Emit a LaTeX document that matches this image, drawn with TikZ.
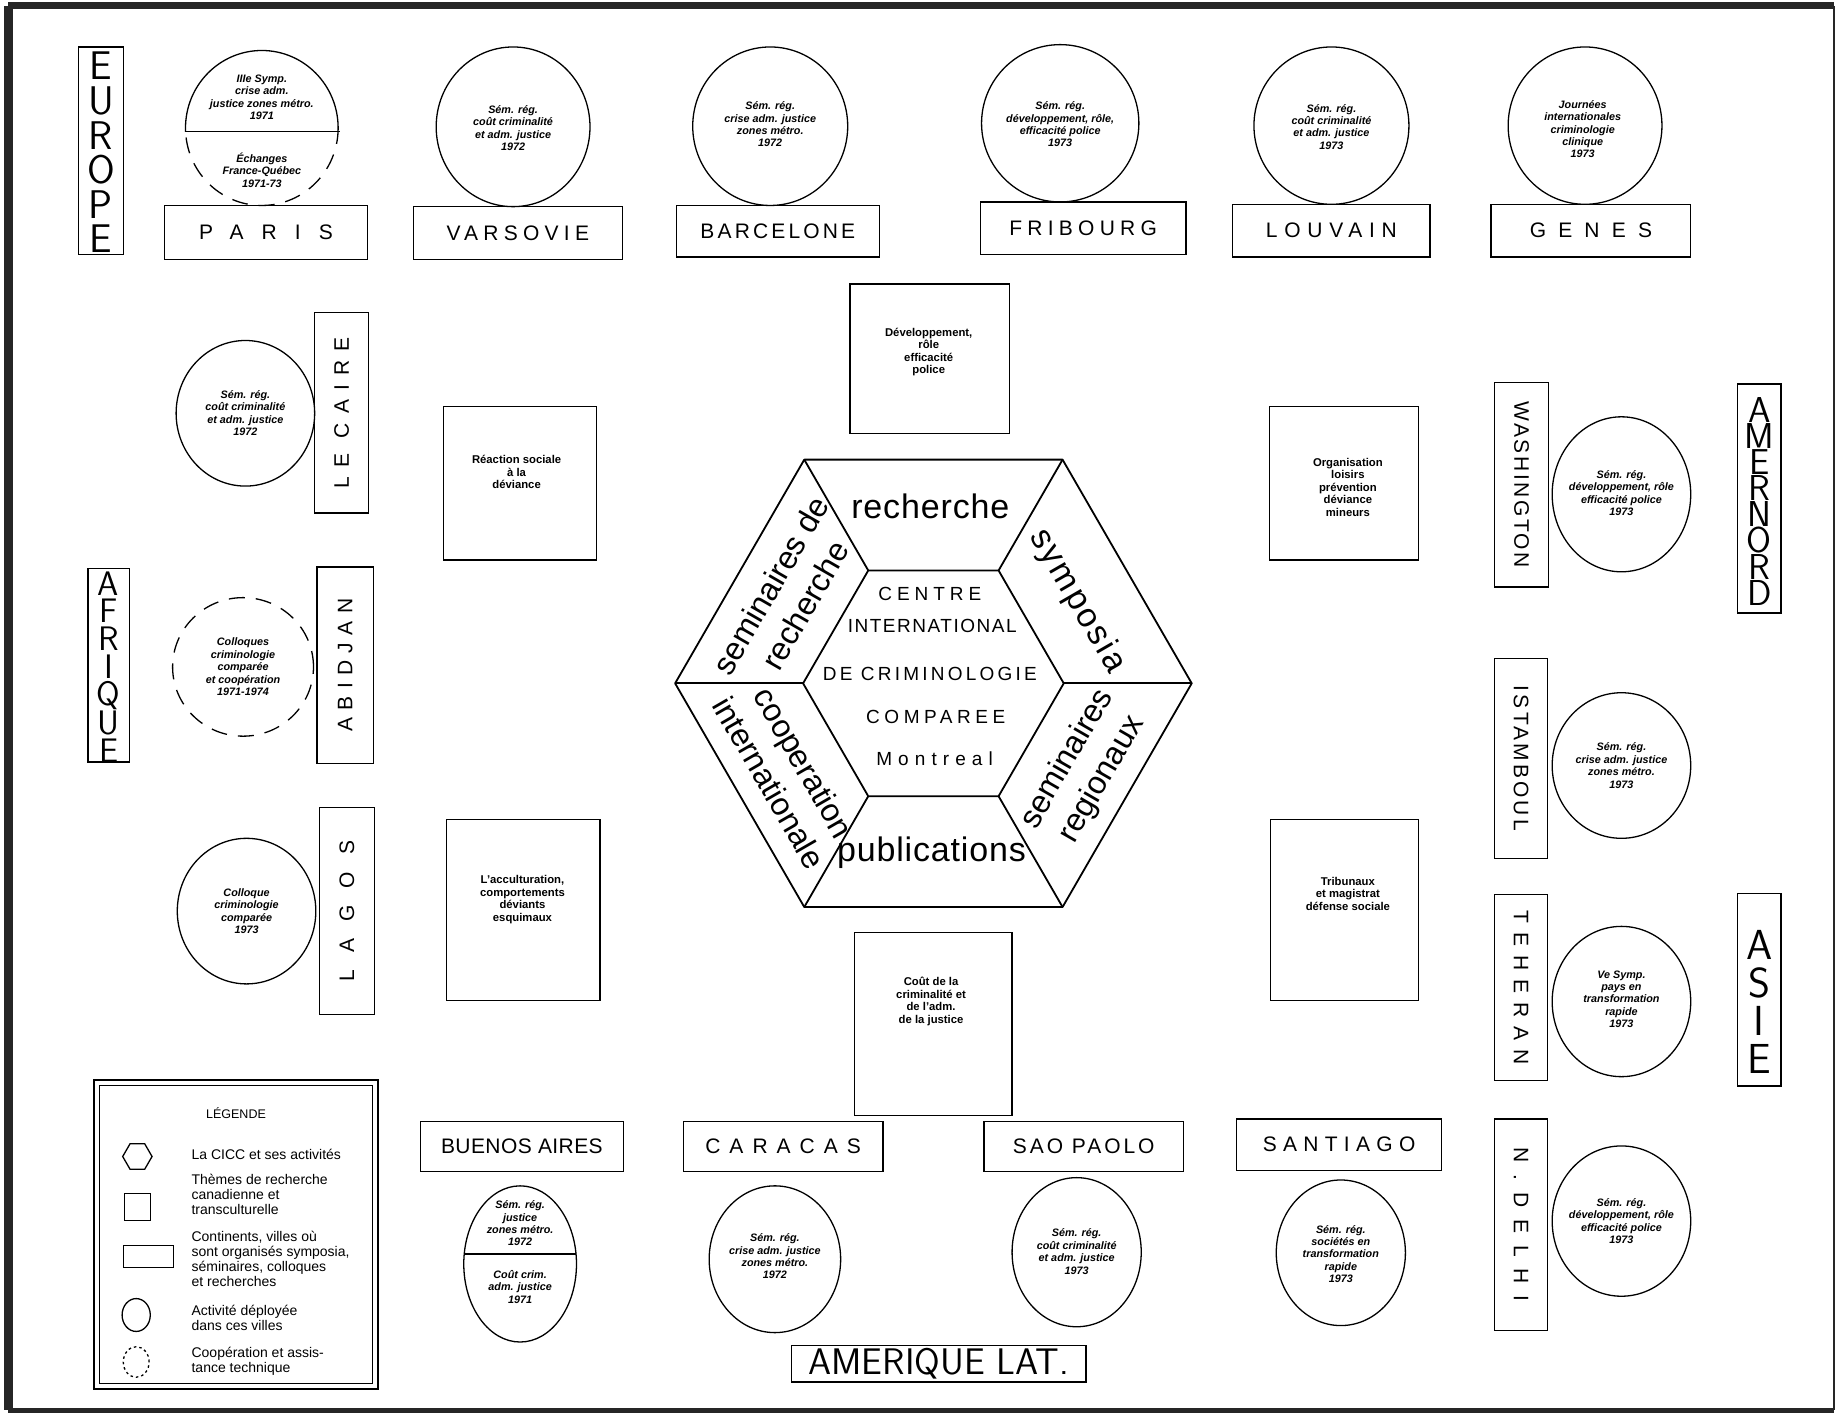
\documentclass[tikz,border=0pt]{standalone}
\usepackage{fontspec}
\setmainfont{Liberation Sans}
\usetikzlibrary{shapes.geometric,calc}
\newcommand\uu{1.1741pt}
\newcommand\ls[2]{{\addfontfeatures{LetterSpace=#1}#2}\hspace{-#1\dimexpr0.01em\relax}}
\tikzset{
 box/.style args={#1/#2}{draw, line width=1.3pt, rectangle, minimum width=#1*\uu, minimum height=#2*\uu, inner sep=0pt},
 act/.style args={#1/#2}{draw, line width=1.3pt, ellipse, minimum width=#1*2*\uu, minimum height=#2*2*\uu, inner sep=0pt},
 city/.style={font=\fontsize{21}{25}\selectfont},
 ctext/.style={align=center, font=\fontsize{10.8}{12.4}\selectfont\bfseries\itshape, inner sep=0pt},
 stext/.style={align=center, font=\fontsize{11.3}{12.5}\selectfont\bfseries, inner sep=0pt},
 hexw/.style={font=\fontsize{34}{40}\selectfont, align=center, inner sep=0pt},
 hexs/.style={font=\fontsize{32}{40}\selectfont, align=center, inner sep=0pt},
 hexl/.style={line width=1.8pt, line join=round},
 ctr/.style={font=\fontsize{19}{22}\selectfont, inner sep=0pt},
 leg/.style={align=left, font=\fontsize{14}{15}\selectfont, inner sep=0pt, anchor=west},
 dashc/.style={dash pattern=on 16pt off 11pt},
}
\begin{document}
\begin{tikzpicture}[x=\uu, y=-\uu]
\useasboundingbox (0,0) rectangle (1568,1207);
\fill[white] (0,0) rectangle (1568,1207);
% frame
\coordinate (fTL) at (7,5); \coordinate (fTR) at (1562,5);
\coordinate (fBR) at (1562,1201); \coordinate (fBL) at (7,1201);
\draw[line width=7pt, black!85] (fTL) -- (fTR);
\draw[line width=9pt, black!85] (fTL) -- (fBL);
\draw[line width=5pt, black!85] (fBL) -- (fBR);
\draw[line width=2pt, black!85] (fTR) -- (fBR);

% ---------- EUROPE row ----------
\node[box=38/177] (beurope) at (86,128.5) {};
\node[align=center, inner sep=0pt, font=\fontsize{40}{34.6}\selectfont\sffamily] (teurope) at (86,130) {E\\U\\R\\O\\P\\E};

\node[box=173/46, city] (bparis) at (226.5,198) {\ls{86}{PARIS}};
\node[act=65/66, draw=none] (cparis) at (223,109) {};
\begin{scope}
 \clip (150,30) rectangle (300,112);
 \draw[line width=1.3pt] (cparis.center) ellipse [x radius=65, y radius=66];
\end{scope}
\begin{scope}
 \clip (150,112) rectangle (300,190);
 \draw[line width=1.3pt, dashc] (cparis.center) ellipse [x radius=65, y radius=66];
\end{scope}
\draw[line width=1.3pt] (158,112) -- (290,112);
\node[ctext] (tparis1) at (223,83) {IIIe Symp.\\crise adm.\\justice zones métro.\\1971};
\node[ctext] (tparis2) at (223,145) {Échanges\\France-Québec\\1971-73};

\node[box=178/45, city] (bvars) at (441,198.5) {\ls{25}{VARSOVIE}};
\node[act=65.5/68] (cvars) at (437,108) {};
\node[ctext] (tvars) at (437,109) {Sém. rég.\\coût criminalité\\et adm. justice\\1972};

\node[box=173/44, city] (bbarc) at (662.5,197) {\ls{15}{BARCELONE}};
\node[act=66/67.5] (cbarc) at (656,107.5) {};
\node[ctext] (tbarc) at (656,106) {Sém. rég.\\crise adm. justice\\zones métro.\\1972};

\node[box=175/45, city] (bfrib) at (922.5,194.5) {\ls{25}{FRIBOURG}};
\node[act=67/67] (cfrib) at (903,105) {};
\node[ctext] (tfrib) at (903,106) {Sém. rég.\\développement, rôle,\\efficacité police\\1973};

\node[box=168/45, city] (blouv) at (1134,196.5) {\ls{32}{LOUVAIN}};
\node[act=66/67] (clouv) at (1134,107) {};
\node[ctext] (tlouv) at (1134,108) {Sém. rég.\\coût criminalité\\et adm. justice\\1973};

\node[box=170/45, city] (bgenes) at (1355,196.5) {\ls{58}{GENES}};
\node[act=65.5/67] (cgenes) at (1350,107) {};
\node[ctext] (tgenes) at (1348,110) {Journées\\internationales\\criminologie\\clinique\\1973};

% ---------- AFRIQUE column ----------
\node[box=171/46, city, rotate=90] (bcaire) at (291,351.5) {\ls{44}{LE CAIRE}};
\node[act=59/62] (ccaire) at (209,352) {};
\node[ctext] (tcaire) at (209,352) {Sém. rég.\\coût criminalité\\et adm. justice\\1972};

\node[box=35/165] (bafr) at (92.5,566.5) {};
\node[align=center, inner sep=0pt, font=\fontsize{34}{27.7}\selectfont\sffamily] (tafr) at (92.5,568) {A\\F\\R\\I\\Q\\U\\E};

\node[box=167/48, city, rotate=90] (babid) at (294,566.5) {\ls{35}{ABIDJAN}};
\node[act=60/59, dashc] (cabid) at (207,568) {};
\node[ctext] (tabid) at (207,568) {Colloques\\criminologie\\comparée\\et coopération\\1971-1974};

\node[box=176/47, city, rotate=90] (blagos) at (295.5,776) {\ls{82}{LAGOS}};
\node[act=59/62] (clagos) at (210,776) {};
\node[ctext] (tlagos) at (210,776) {Colloque\\criminologie\\comparée\\1973};

% ---------- right column ----------
\node[box=174/46, city, rotate=-90] (bwash) at (1296,413) {\ls{12}{WASHINGTON}};
\node[act=59/66] (cwash) at (1381,421) {};
\node[ctext] (twash) at (1381,420) {Sém. rég.\\développement, rôle\\efficacité police\\1973};

\node[box=37/195] (bamn) at (1498.5,424.5) {};
\node[align=center, inner sep=0pt, font=\fontsize{36}{24.4}\selectfont\sffamily] (tamn) at (1498.5,427) {A\\M\\E\\R\\N\\O\\R\\D};
\node[box=170/45, city, rotate=-90] (bist) at (1295.5,646) {\ls{15}{ISTAMBOUL}};
\node[act=59/62] (cist) at (1381,652) {};
\node[ctext] (tist) at (1381,652) {Sém. rég.\\crise adm. justice\\zones métro.\\1973};

\node[box=158/45, city, rotate=-90] (bteh) at (1295.5,841) {\ls{43}{TEHERAN}};
\node[act=59/64] (cteh) at (1381,853) {};
\node[ctext] (tteh) at (1381,851) {Ve Symp.\\pays en\\transformation\\rapide\\1973};

\node[box=37/164] (basie) at (1498.5,843) {};
\node[align=center, inner sep=0pt, font=\fontsize{42}{38}\selectfont\sffamily] (tasie) at (1498.5,853) {A\\S\\I\\E};

\node[box=180/45, city, rotate=-90] (bdelhi) at (1295.5,1043) {\ls{56}{N.DELHI}};
\node[act=59/64] (cdelhi) at (1381,1040) {};
\node[ctext] (tdelhi) at (1381,1040) {Sém. rég.\\développement, rôle\\efficacité police\\1973};

% ---------- AMERIQUE LAT. row ----------
\node[box=173/43, city] (bba) at (444.5,976.5) {\ls{2}{BUENOS AIRES}};
\node[act=48/66.5] (cba) at (443,1076.5) {};
\draw[line width=1.3pt] (395.5,1068) -- (490.5,1068);
\node[ctext] (tba1) at (443,1042) {Sém. rég.\\justice\\zones métro.\\1972};
\node[ctext] (tba2) at (443,1096) {Coût crim.\\adm. justice\\1971};

\node[box=170/43, city] (bcar) at (667,976.5) {\ls{43}{CARACAS}};
\node[act=56/62.5] (ccar) at (660,1072.5) {};
\node[ctext] (tcar) at (660,1070) {Sém. rég.\\crise adm. justice\\zones métro.\\1972};

\node[box=170/43, city] (bsao) at (923,976.5) {\ls{14}{SAO PAOLO}};
\node[act=55/63.5] (csao) at (917,1066.5) {};
\node[ctext] (tsao) at (917,1066) {Sém. rég.\\coût criminalité\\et adm. justice\\1973};

\node[box=175/44, city] (bsant) at (1140.5,975) {\ls{30}{SANTIAGO}};
\node[act=55/62] (csant) at (1142,1067) {};
\node[ctext] (tsant) at (1142,1068) {Sém. rég.\\sociétés en\\transformation\\rapide\\1973};

\node[box=251/31, font=\fontsize{37}{40}\selectfont\sffamily] (bamlat) at (799.5,1161.5) {AMERIQUE LAT.};

% ---------- theme squares ----------
\node[box=130/131] (sqreac) at (443,411.5) {};
\node[stext] (treac) at (440,402) {Réaction sociale\\à la\\déviance};
\node[box=136/127] (sqdev) at (792,305.5) {};
\node[stext] (tdev) at (791,300) {Développement,\\rôle\\efficacité\\police};
\node[box=127/131] (sqorg) at (1144.5,411.5) {};
\node[stext] (torg) at (1148,415) {Organisation\\loisirs\\prévention\\déviance\\mineurs};
\node[box=131/154] (sqacc) at (445.5,775) {};
\node[stext] (tacc) at (445,766) {L'acculturation,\\comportements\\déviants\\esquimaux};
\node[box=134/156] (sqcout) at (795,872) {};
\node[stext] (tcout) at (793,853) {Coût de la\\criminalité et\\de l'adm.\\de la justice};
\node[box=126/154] (sqtrib) at (1145,775) {};
\node[stext] (ttrib) at (1148,761) {Tribunaux\\et magistrat\\défense sociale};

% ---------- central hexagon ----------
\coordinate (C) at (795,582);
\foreach \i/\a in {1/0,2/60,3/120,4/180,5/240,6/300}{
  \coordinate (o\i) at ($(C)+(\a:220)$);
  \coordinate (n\i) at ($(C)+(\a:111)$);
}
\draw[hexl] (o1)--(o2)--(o3)--(o4)--(o5)--(o6)--cycle;
\draw[hexl] (n1)--(n2)--(n3)--(n4)--(n5)--(n6)--cycle;
\foreach \i in {1,...,6}{\draw[hexl] (n\i)--(o\i);}

\node[hexw] (hrech) at (792,431) {\ls{2.5}{recherche}};
\node[hexw] (hpub) at (793,726) {\ls{2.5}{publications}};
\node[hexw, rotate=-60] (hsym) at (917,511) {\ls{7}{symposia}};
\node[hexs, rotate=60] (hsemr) at (671,507) {seminaires de\\recherche};
\node[hexs, rotate=-60] (hcoop) at (670,658) {cooperation\\internationale};
\node[hexs, rotate=60] (hsreg) at (924,655) {seminaires\\regionaux};

\node[ctr] (c1) at (792,506) {\ls{26}{CENTRE}};
\node[ctr] (c2) at (794,533) {\ls{8}{INTERNATIONAL}};
\node[ctr] (c3) at (792,574) {\ls{17}{DE CRIMINOLOGIE}};
\node[ctr] (c4) at (797,611) {\ls{24}{COMPAREE}};
\node[ctr] (c5) at (796,646) {\ls{32}{Montreal}};

% ---------- legend ----------
\node[draw, line width=2.2pt, minimum width=242*\uu, minimum height=263*\uu] (legout) at (201,1051.5) {};
\node[draw, line width=0.9pt, minimum width=233*\uu, minimum height=254*\uu] (legin) at (201,1051.5) {};
\node[inner sep=0pt, font=\fontsize{12.5}{14}\selectfont] (legt) at (201,948) {LÉGENDE};
\node[regular polygon, regular polygon sides=6, draw, line width=1.3pt, minimum size=25*\uu, inner sep=0pt] (lhex) at (117,985) {};
\node[box=22/23] (lsq) at (117,1028) {};
\node[box=43/19] (lrect) at (126.5,1070) {};
\node[act=12/14] (lcirc) at (116,1120) {};
\node[act=11/13, dash pattern=on 2.5pt off 3pt] (ldot) at (116,1160) {};
\node[leg] (l1) at (163,983) {La CICC et ses activités};
\node[leg] (l2) at (163,1017) {Thèmes de recherche\\canadienne et\\transculturelle};
\node[leg] (l3) at (163,1072.5) {Continents, villes où\\sont organisés symposia,\\séminaires, colloques\\et recherches};
\node[leg] (l4) at (163,1122.5) {Activité déployée\\dans ces villes};
\node[leg] (l5) at (163,1159.5) {Coopération et assis-\\tance technique};
\end{tikzpicture}
\end{document}
